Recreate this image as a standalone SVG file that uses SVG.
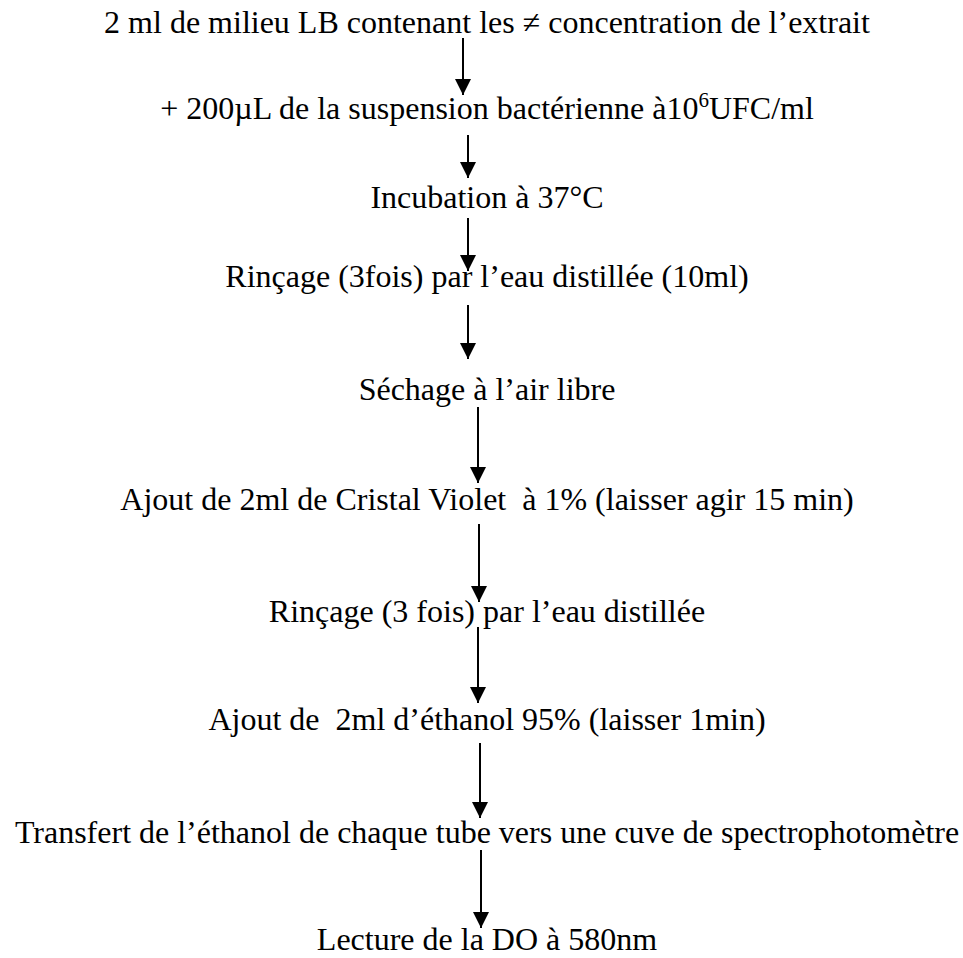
<svg xmlns="http://www.w3.org/2000/svg" width="963" height="958" viewBox="0 0 963 958">
<style>
text{font-family:"Liberation Serif","Times New Roman",serif;font-size:32px;fill:#000;text-anchor:middle;white-space:pre}
.c{stroke:#000;stroke-width:2;fill:none}
</style>
<defs>
<marker id="ah" markerUnits="userSpaceOnUse" markerWidth="16" markerHeight="16" refX="15" refY="7.5" orient="auto" viewBox="0 0 15 15">
<path d="M0,0 L15,7.5 L0,15 Z" fill="#000"/>
</marker>
</defs>
<rect width="963" height="958" fill="#fff"/>
<g id="n1"><text x="487" y="33">2 ml de milieu LB contenant les ≠ concentration de l’extrait</text></g>
<g id="n2"><text x="487" y="119">+ 200µL de la suspension bactérienne à10<tspan font-size="21" dy="-12">6</tspan><tspan dy="12">UFC/ml</tspan></text></g>
<g id="n3"><text x="487" y="208">Incubation à 37°C</text></g>
<g id="n4"><text x="487" y="287">Rinçage (3fois) par l’eau distillée (10ml)</text></g>
<g id="n5"><text x="487" y="400">Séchage à l’air libre</text></g>
<g id="n6"><text x="487" y="510">Ajout de 2ml de Cristal Violet  à 1% (laisser agir 15 min)</text></g>
<g id="n7"><text x="487" y="622">Rinçage (3 fois) par l’eau distillée</text></g>
<g id="n8"><text x="487" y="730">Ajout de  2ml d’éthanol 95% (laisser 1min)</text></g>
<g id="n9"><text x="487" y="843">Transfert de l’éthanol de chaque tube vers une cuve de spectrophotomètre</text></g>
<g id="n10"><text x="487" y="950">Lecture de la DO à 580nm</text></g>
<g id="connectors">
<line class="c" x1="463" y1="38" x2="463" y2="95" marker-end="url(#ah)"/>
<line class="c" x1="468" y1="135" x2="468" y2="178" marker-end="url(#ah)"/>
<line class="c" x1="468" y1="218" x2="468" y2="271" marker-end="url(#ah)"/>
<line class="c" x1="468" y1="305" x2="468" y2="359" marker-end="url(#ah)"/>
<line class="c" x1="478" y1="407" x2="478" y2="483" marker-end="url(#ah)"/>
<line class="c" x1="479" y1="524" x2="479" y2="602" marker-end="url(#ah)"/>
<line class="c" x1="478" y1="627" x2="478" y2="703" marker-end="url(#ah)"/>
<line class="c" x1="480" y1="743" x2="480" y2="818" marker-end="url(#ah)"/>
<line class="c" x1="481" y1="850" x2="481" y2="928" marker-end="url(#ah)"/>
</g>
</svg>
